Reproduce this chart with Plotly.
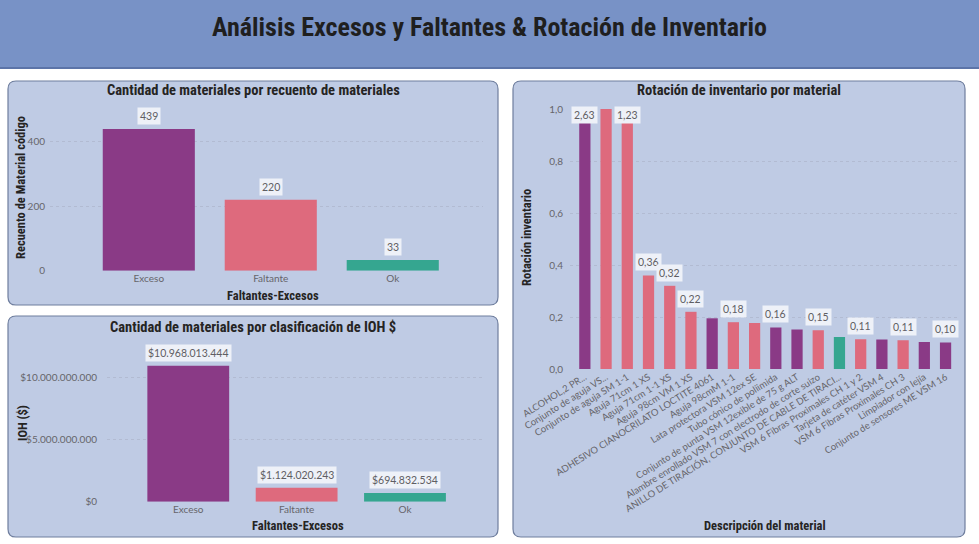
import plotly.graph_objects as go

W, H = 979, 544

# ---------------- data ----------------
cat_status = ["Exceso", "Faltante", "Ok"]
count_values = [439, 220, 33]
count_ticks = [0, 200, 400]
ioh_values = [10968013444, 1124020243, 694832534]
ioh_ticks = [0, 5000000000, 10000000000]

materials = [
    "ALCOHOL,2 PR...",
    "Conjunto de aguja VS...",
    "Conjunto de aguja SM 1-1",
    "Aguja 71cm 1 XS",
    "Aguja 71cm 1-1 XS",
    "Aguja 98cm VM 1 XS",
    "ADHESIVO CIANOCRILATO LOCTITE 4061",
    "Aguja 98cmM 1-1",
    "Lata protectora VSM 12ex SE",
    "Tubo cónico de poliimida",
    "Conjunto de punta VSM 12exible de 75 g ALT",
    "Alambre enrollado VSM 7 con electrodo de corte suizo",
    "ANILLO DE TIRACIÓN, CONJUNTO DE CABLE DE TIRACI...",
    "VSM 6 Fibras Proximales CH 1 y 2",
    "Tarjeta de catéter VSM 4",
    "VSM 6 Fibras Proximales CH 3",
    "Limpiador con lejía",
    "Conjunto de sensores ME VSM 16",
]
rotation_values = [2.63, 1.60, 1.23, 0.36, 0.32, 0.22, 0.195, 0.18, 0.177, 0.16,
                   0.152, 0.149, 0.123, 0.114, 0.113, 0.111, 0.104, 0.102]
rotation_ticks = [0, 0.2, 0.4, 0.6, 0.8, 1.0]
material_status = ["Exceso", "Faltante", "Faltante", "Faltante", "Faltante", "Faltante",
                   "Exceso", "Faltante", "Faltante", "Exceso", "Exceso", "Faltante",
                   "Ok", "Faltante", "Exceso", "Faltante", "Exceso", "Exceso"]
rotation_label_shown = [True, False, True, True, True, True, False, True, False, True,
                        False, True, False, True, False, True, False, True]

# ---------------- style ----------------
COLORS = {"Exceso": "#8A3A86", "Faltante": "#DE6A7D", "Ok": "#35A690"}
PANEL = "#BFCBE4"
PANEL_BORDER = "#6F7E9E"
HEADER = "#7892C6"
TICK_FONT = dict(family="Lato", size=10, color="#66656A")
TITLE_FAMILY = "Liberation Sans Narrow, Roboto Condensed, Roboto"
LABEL_BG = "#EEF1F8"


def X(px):
    return px / W


def Y(py):
    return 1 - py / H


def rounded(x0, y0, x1, y1, r=8):
    rx, ry = r / W, r / H
    a0, a1 = X(x0), X(x1)
    b0, b1 = Y(y1), Y(y0)  # bottom, top in paper
    return (f"M {a0+rx},{b1} L {a1-rx},{b1} Q {a1},{b1} {a1},{b1-ry} "
            f"L {a1},{b0+ry} Q {a1},{b0} {a1-rx},{b0} L {a0+rx},{b0} "
            f"Q {a0},{b0} {a0},{b0+ry} L {a0},{b1-ry} Q {a0},{b1} {a0+rx},{b1} Z")


def dots(v):
    return f"{v:,d}".replace(",", ".")


fig = go.Figure()

fig.add_trace(go.Bar(x=cat_status, y=count_values, marker_color=[COLORS[c] for c in cat_status],
                     marker_line_width=0, width=0.755, xaxis="x", yaxis="y",
                     hoverinfo="x+y", showlegend=False))
fig.add_trace(go.Bar(x=cat_status, y=ioh_values, marker_color=[COLORS[c] for c in cat_status],
                     marker_line_width=0, width=0.755, xaxis="x2", yaxis="y2",
                     hoverinfo="x+y", showlegend=False))
fig.add_trace(go.Bar(x=materials, y=rotation_values,
                     marker_color=[COLORS[c] for c in material_status],
                     marker_line_width=0, width=0.53, xaxis="x3", yaxis="y3",
                     hoverinfo="x+y", showlegend=False))

shapes = [
    dict(type="rect", xref="paper", yref="paper", x0=0, x1=1, y0=Y(68), y1=1,
         fillcolor=HEADER, line_width=0, layer="below"),
    dict(type="line", xref="paper", yref="paper", x0=0, x1=1, y0=Y(68), y1=Y(68),
         line=dict(color="#5C74A8", width=2), layer="below"),
]
for (x0, y0, x1, y1) in [(8, 81, 498, 305), (8, 316, 498, 537), (513, 81, 965, 537)]:
    shapes.append(dict(type="path", xref="paper", yref="paper", path=rounded(x0, y0, x1, y1),
                       fillcolor=PANEL, line=dict(color=PANEL_BORDER, width=1.2), layer="below"))

annotations = []


def text(px, py, s, size, bold=True, angle=0, family=TITLE_FAMILY, color="#252423"):
    annotations.append(dict(xref="paper", yref="paper", x=X(px), y=Y(py),
                            text=f"<b>{s}</b>" if bold else s,
                            showarrow=False, textangle=angle, xanchor="center", yanchor="middle",
                            font=dict(family=family, size=size, color=color)))


text(489, 27, "Análisis Excesos y Faltantes &amp; Rotación de Inventario", 26, color="#1F1F1F")
text(253, 91, "Cantidad de materiales por recuento de materiales", 14.5)
text(253, 327, "Cantidad de materiales por clasificación de IOH $", 14.5)
text(739, 91, "Rotación de inventario por material", 14.5)
text(20, 188, "Recuento de Material código", 12.5, angle=-90)
text(273, 295, "Faltantes-Excesos", 12.5)
text(22, 423, "IOH ($)", 12.5, angle=-90)
text(298, 525, "Faltantes-Excesos", 12.5)
text(526, 238, "Rotación inventario", 12.5, angle=-90)
text(765, 525, "Descripción del material", 12.5)


def label(xref, yref, x, y, s, yanchor="bottom", yshift=4):
    annotations.append(dict(xref=xref, yref=yref, x=x, y=y, text=s, showarrow=False,
                            yanchor=yanchor, yshift=yshift, bgcolor=LABEL_BG, borderpad=2,
                            font=dict(family="Lato", size=10.5, color="#5F5E63")))


for c, v in zip(cat_status, count_values):
    label("x", "y", c, v, dots(v))
for c, v in zip(cat_status, ioh_values):
    label("x2", "y2", c, v, "$" + dots(v))
R_MAX = 1.0
for m, v, show in zip(materials, rotation_values, rotation_label_shown):
    if not show:
        continue
    s = f"{v:.2f}".replace(".", ",")
    if v > R_MAX:
        label("x3", "y3", m, R_MAX, s, yanchor="top", yshift=3)
    else:
        label("x3", "y3", m, v, s)

grid = dict(showgrid=True, gridcolor="#B2BBD2", griddash="dot", gridwidth=1,
            zeroline=False, showline=False, ticks="", tickfont=TICK_FONT, automargin=False,
            fixedrange=True)
xcommon = dict(showgrid=False, zeroline=False, showline=False, ticks="", tickfont=TICK_FONT,
               fixedrange=True, automargin=False)

fig.update_layout(
    width=W, height=H, margin=dict(l=0, r=0, t=0, b=0, pad=0, autoexpand=False),
    paper_bgcolor="#FFFFFF", plot_bgcolor="rgba(0,0,0,0)",
    separators=",.",
    showlegend=False,
    shapes=shapes, annotations=annotations,
    xaxis=dict(domain=[X(50), X(483)], range=[-0.81, 2.74], anchor="y", **xcommon),
    yaxis=dict(domain=[Y(270.7), Y(106)], range=[0, 510], anchor="x",
               tickvals=count_ticks, ticktext=[dots(v) for v in count_ticks],
               ticklabelstandoff=4, **grid),
    xaxis2=dict(domain=[X(107), X(483)], range=[-0.75, 2.72], anchor="y2", **xcommon),
    yaxis2=dict(domain=[Y(501.7), Y(345)], range=[0, 12.64e9], anchor="x2",
                tickvals=ioh_ticks, ticktext=["$" + dots(v) for v in ioh_ticks],
                ticklabelstandoff=9, **grid),
    xaxis3=dict(domain=[X(570), X(960.4)], range=[-0.7, 17.7], anchor="y3", tickangle=-32,
                **{**xcommon, "tickfont": dict(family="Lato", size=9.5, color="#66656A")}),
    yaxis3=dict(domain=[Y(369), Y(109)], range=[0, R_MAX], anchor="x3",
                tickvals=rotation_ticks,
                ticktext=[f"{v:.1f}".replace(".", ",") for v in rotation_ticks],
                ticklabelstandoff=6, **grid),
)

fig.write_html("out.html")
